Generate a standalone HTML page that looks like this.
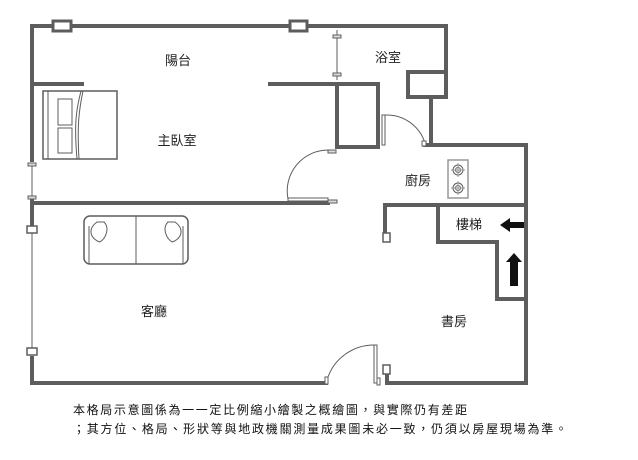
<!DOCTYPE html>
<html><head><meta charset="utf-8"><style>
body{margin:0;background:#fff;width:638px;height:460px;overflow:hidden}
svg{position:absolute;left:0;top:0}
text{font-family:"Liberation Sans","Noto Sans CJK TC",sans-serif;font-size:13px;fill:#222}
.f{font-size:12px;fill:#111}
</style></head><body>
<svg width="638" height="460" viewBox="0 0 638 460">
<g stroke="#5d5d5d" stroke-width="4" fill="none" stroke-linecap="square">
<path d="M32 26H53 M71 26H290 M307 26H446V72"/>
<rect x="408" y="72" width="38" height="25"/>
<path d="M431 97V145 M425 145H526V383H387V372"/>
<path d="M32 26V160 M32 200V225 M32 358V383H326"/>
<path d="M32 84H82 M270 84H337V147H378V84H337"/>
<path d="M32 203H328"/>
<path d="M385 233V205H526 M438 205V242H497V299H526"/>
</g>
<g stroke="#5d5d5d" stroke-width="1" fill="none">
<path d="M72 26H290 M337 30V80 M32 165V197 M32 231V352"/>
<rect x="53" y="21" width="18" height="10" fill="#fff" stroke-width="3"/>
<rect x="290" y="21" width="17" height="10" fill="#fff" stroke-width="3"/>
<rect x="333" y="35" width="8" height="3" fill="#ddd"/>
<rect x="333" y="73" width="8" height="3" fill="#ddd"/>
<rect x="28" y="163" width="8" height="3" fill="#ddd"/>
<rect x="28" y="196" width="8" height="3" fill="#ddd"/>
<rect x="27" y="226" width="10" height="7" fill="#fff" stroke-width="1.5"/>
<rect x="27" y="348" width="10" height="7" fill="#fff" stroke-width="1.5"/>
<rect x="383" y="233" width="7" height="9" fill="#fff" stroke-width="1.5"/>
<rect x="383" y="365" width="7" height="9" fill="#fff" stroke-width="1.5"/>
<path d="M329 150 A41 41 0 0 0 288 199"/>
<rect x="288" y="198" width="40" height="3" fill="#fff"/>
<rect x="328" y="150" width="8" height="3" fill="#ddd"/>
<rect x="328" y="200" width="9" height="3" fill="#ddd"/>
<rect x="382" y="115" width="3" height="30" fill="#fff"/>
<path d="M385 115 A40 40 0 0 1 425 143"/>
<rect x="422" y="141" width="4" height="5" fill="#fff"/>
<rect x="374" y="345" width="3" height="38" fill="#fff"/>
<path d="M375 345 A49 49 0 0 0 327 380"/>
<rect x="325" y="377" width="3" height="7" fill="#fff"/>
<rect x="377" y="378" width="3" height="7" fill="#fff"/>
<rect x="43" y="91" width="74" height="68" stroke-width="1.5"/>
<path d="M48 91V159 M58 99H72V125H58Z M58 128H72V153H58Z M81 91C76 110 74 125 77 159 M83 91C79 110 77 125 79 159"/>
<rect x="84" y="216" width="104" height="48" rx="6" stroke-width="1.5"/>
<path d="M136 216V264 M89 226V264 M183 226V264 M97 222C86 230 92 240 100 242C106 238 110 228 104 222Z M175 222C186 230 180 240 172 242C166 238 162 228 168 222Z"/>
<rect x="448" y="160" width="20" height="38" stroke="#999" stroke-width="1.5"/>
<circle cx="458" cy="170" r="5"/><circle cx="458" cy="170" r="2.5"/>
<circle cx="458" cy="188" r="5"/><circle cx="458" cy="188" r="2.5"/>
<path d="M451 170H465 M458 163V177 M451 188H465 M458 181V195" stroke="#999"/>
</g>
<path d="M524 222H510V218L500 225L510 232V228H524Z" fill="#111"/>
<path d="M510 286V262H506L514 253L522 262H518V286Z" fill="#111"/>
<text x="178" y="65" text-anchor="middle">陽台</text>
<text x="177" y="145" text-anchor="middle">主臥室</text>
<text x="388" y="62" text-anchor="middle">浴室</text>
<text x="418" y="185" text-anchor="middle">廚房</text>
<text x="469" y="229" text-anchor="middle">樓梯</text>
<text x="154" y="316" text-anchor="middle">客廳</text>
<text x="454" y="326" text-anchor="middle">書房</text>
<text class="f" x="73" y="414" textLength="394" lengthAdjust="spacing">本格局示意圖係為一一定比例縮小繪製之概繪圖，與實際仍有差距</text>
<text class="f" x="73" y="433" textLength="494" lengthAdjust="spacing">；其方位、格局、形狀等與地政機關測量成果圖未必一致，仍須以房屋現場為準。</text>
</svg>
</body></html>
